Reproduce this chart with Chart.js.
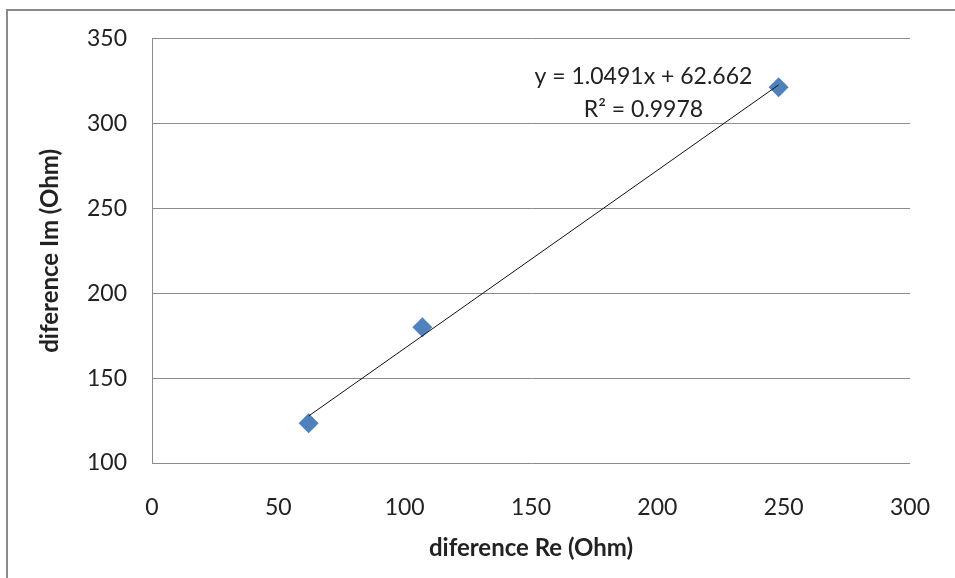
<!DOCTYPE html>
<html>
<head>
<meta charset="utf-8">
<script src="https://cdn.jsdelivr.net/npm/chart.js@4"></script>
<style>
  body { margin: 0; background: #fff; }
  #wrap { width: 955px; height: 578px; position: relative; }
</style>
</head>
<body>
<div id="wrap"><canvas id="scatterChart" width="955" height="578"></canvas></div>
<script>
const ctx = document.getElementById('scatterChart').getContext('2d');

// measured points (Re difference, Im difference)
const reValues = [62, 107, 248];
const imValues = [123.5, 180, 321.5];

// linear trendline as printed on the chart
const slope = 1.0491;
const intercept = 62.662;
const rSquared = 0.9978;

const xTicks = [0, 50, 100, 150, 200, 250, 300];
const yTicks = [100, 150, 200, 250, 300, 350];

const points = reValues.map((x, i) => ({ x: x, y: imValues[i] }));
const xMin = Math.min(...reValues);
const xMax = Math.max(...reValues);
const trend = [
    { x: xMin, y: slope * xMin + intercept },
    { x: xMax, y: slope * xMax + intercept }
];

const tickFont = { family: 'Lato, "Open Sans", sans-serif', size: 23 };
const titleFont = { family: 'Lato, "Open Sans", sans-serif', size: 24, weight: 'bold' };

// gray frame round the chart (top and left edges only are visible)
const framePlugin = {
    id: 'frame',
    beforeDraw(chart) {
        const c = chart.ctx;
        c.save();
        c.fillStyle = '#fff';
        c.fillRect(0, 0, chart.width, chart.height);
        c.strokeStyle = '#8a8a8a';
        c.lineWidth = 2;
        c.beginPath();
        c.moveTo(955, 10);
        c.lineTo(7, 10);
        c.lineTo(7, 578);
        c.stroke();
        c.restore();
    }
};

// trendline label
const equationPlugin = {
    id: 'equation',
    afterDatasetsDraw(chart) {
        const c = chart.ctx;
        const xs = chart.scales.x;
        const ys = chart.scales.y;
        const cx = xs.getPixelForValue(194.5);
        c.save();
        c.fillStyle = '#222';
        c.font = '23px Lato, "Open Sans", sans-serif';
        c.textAlign = 'center';
        c.textBaseline = 'middle';
        c.fillText('y = ' + slope + 'x + ' + intercept, cx, ys.getPixelForValue(328));
        c.fillText('R\u00B2 = ' + rSquared, cx, ys.getPixelForValue(308.5));
        c.restore();
    }
};

const config = {
    type: 'scatter',
    data: {
        datasets: [
            {
                label: 'Im vs Re',
                data: points,
                pointStyle: 'rectRot',
                pointRadius: 10,
                pointHoverRadius: 10,
                backgroundColor: '#4f81bd',
                borderColor: '#4f81bd',
                borderWidth: 0,
                order: 1
            },
            {
                label: 'Linear trend',
                type: 'line',
                data: trend,
                borderColor: '#111',
                borderWidth: 1,
                pointRadius: 0,
                fill: false,
                order: 0
            }
        ]
    },
    options: {
        responsive: false,
        animation: false,
        layout: {
            padding: { left: 0, top: 38, right: 45, bottom: 0 }
        },
        scales: {
            x: {
                type: 'linear',
                min: 0,
                max: 300,
                afterBuildTicks: (scale) => { scale.ticks = xTicks.map(v => ({ value: v })); },
                afterFit: (scale) => {
                    scale.height = 115;
                    scale.paddingLeft = 0;
                    scale.paddingRight = 0;
                },
                ticks: { color: '#222', font: tickFont, padding: 31, maxRotation: 0 },
                grid: { display: false, drawTicks: false },
                border: { display: false },
                title: {
                    display: true,
                    text: 'diference Re (Ohm)',
                    color: '#222',
                    font: titleFont,
                    padding: { top: 0, bottom: 15 }
                }
            },
            y: {
                type: 'linear',
                min: 100,
                max: 350,
                afterBuildTicks: (scale) => { scale.ticks = yTicks.map(v => ({ value: v })); },
                afterFit: (scale) => { scale.width = 152; },
                ticks: { color: '#222', font: tickFont, padding: 25 },
                grid: { color: '#8c8c8c', lineWidth: 1, drawTicks: false },
                border: { display: true, color: '#8c8c8c', width: 1 },
                title: {
                    display: true,
                    text: 'diference Im (Ohm)',
                    color: '#222',
                    font: titleFont,
                    padding: { top: 36, bottom: 0 }
                }
            }
        },
        plugins: {
            legend: { display: false },
            tooltip: { enabled: false }
        }
    },
    plugins: [framePlugin, equationPlugin]
};

const myChart = new Chart(ctx, config);
</script>
</body>
</html>
